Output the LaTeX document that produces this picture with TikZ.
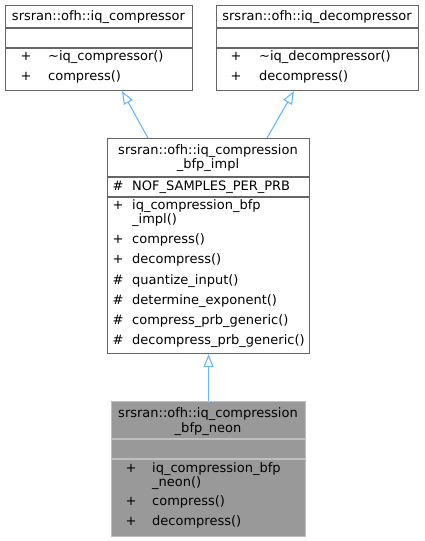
\documentclass[tikz,border=0pt]{standalone}
\usepackage{fontspec}
\setmainfont{DejaVu Sans}
\usetikzlibrary{arrows.meta,calc}
\definecolor{boxline}{HTML}{666666}
\definecolor{neonline}{HTML}{BFBFBF}
\definecolor{neonfill}{HTML}{999999}
\definecolor{edge}{HTML}{63B8FF}
\tikzset{
  txt/.style={inner sep=0pt, text height=9.5pt, text depth=2.5pt, font=\fontsize{13}{14}\selectfont},
  lt/.style={txt, anchor=west},
  ct/.style={txt, anchor=center},
  cls/.style={draw=boxline, line width=1.1pt, fill=white},
  neon/.style={draw=neonline, line width=1.1pt, fill=neonfill},
  sepl/.style={draw=boxline, line width=1.1pt},
  nsepl/.style={draw=neonline, line width=1.1pt},
  inh/.style={draw=edge, line width=1.1pt, -{Triangle[open, length=13pt, width=10pt, fill=white]}}
}
\begin{document}
\begin{tikzpicture}[x=1pt, y=-1pt]
\useasboundingbox (0,0) rectangle (424,541);

% --- iq_compressor
\node[cls, minimum width=187pt, minimum height=85pt, inner sep=0pt, anchor=north west] (comp) at (5,5) {};
\draw[sepl] (5,28) -- (192,28);
\draw[sepl] (5,48) -- (192,48);
\node[ct] (compT) at (98.5,16.5) {srsran::ofh::iq\_compressor};
\node[ct] (compP1) at (26,57) {+};
\node[lt] (compM1) at (48,57) {\char"007Eiq\_compressor()};
\node[ct] (compP2) at (26,77) {+};
\node[lt] (compM2) at (48,77) {compress()};

% --- iq_decompressor
\node[cls, minimum width=202pt, minimum height=85pt, inner sep=0pt, anchor=north west] (decomp) at (216,5) {};
\draw[sepl] (216,28) -- (418,28);
\draw[sepl] (216,48) -- (418,48);
\node[ct] (decompT) at (317,16.5) {srsran::ofh::iq\_decompressor};
\node[ct] (decompP1) at (236,57) {+};
\node[lt] (decompM1) at (259,57) {\char"007Eiq\_decompressor()};
\node[ct] (decompP2) at (236,77) {+};
\node[lt] (decompM2) at (259,77) {decompress()};

% --- iq_compression_bfp_impl
\node[cls, minimum width=202pt, minimum height=215pt, inner sep=0pt, anchor=north west] (impl) at (107,138) {};
\draw[sepl] (107,177) -- (309,177);
\draw[sepl] (107,197) -- (309,197);
\node[ct] (implT1) at (208,151) {srsran::ofh::iq\_compression};
\node[ct] (implT2) at (208,165) {\_bfp\_impl};
\node[ct] (implA1s) at (118,186.5) {\#};
\node[lt] (implA1) at (132,186.5) {NOF\_SAMPLES\_PER\_PRB};
\node[ct] (implS1) at (118,206) {+};
\node[lt] (implM1) at (132,206) {iq\_compression\_bfp};
\node[lt] (implM1b) at (132,220) {\_impl()};
\node[ct] (implS2) at (118,240) {+};
\node[lt] (implM2) at (132,240) {compress()};
\node[ct] (implS3) at (118,260) {+};
\node[lt] (implM3) at (132,260) {decompress()};
\node[ct] (implS4) at (118,281) {\#};
\node[lt] (implM4) at (132,281) {quantize\_input()};
\node[ct] (implS5) at (118,301) {\#};
\node[lt] (implM5) at (132,301) {determine\_exponent()};
\node[ct] (implS6) at (118,321) {\#};
\node[lt] (implM6) at (132,321) {compress\_prb\_generic()};
\node[ct] (implS7) at (118,341) {\#};
\node[lt] (implM7) at (132,341) {decompress\_prb\_generic()};

% --- iq_compression_bfp_neon
\node[neon, minimum width=194pt, minimum height=135pt, inner sep=0pt, anchor=north west] (neonb) at (111,401) {};
\draw[nsepl] (111,439) -- (305,439);
\draw[nsepl] (111,459) -- (305,459);
\node[ct] (neonT1) at (208,414) {srsran::ofh::iq\_compression};
\node[ct] (neonT2) at (208,428.5) {\_bfp\_neon};
\node[ct] (neonS1) at (131,469) {+};
\node[lt] (neonM1) at (152,469) {iq\_compression\_bfp};
\node[lt] (neonM1b) at (152,482.5) {\_neon()};
\node[ct] (neonS2) at (131,502) {+};
\node[lt] (neonM2) at (152,502) {compress()};
\node[ct] (neonS3) at (131,522) {+};
\node[lt] (neonM3) at (152,522) {decompress()};

% --- inheritance edges
\coordinate (e1s) at ($(impl.north west)+(41,0)$);
\coordinate (e1t) at ($(comp.south west)+(117,0)$);
\coordinate (e2s) at ($(impl.north west)+(160,0)$);
\coordinate (e2t) at ($(decomp.south west)+(78,0)$);
\draw[inh] (e1s) -- (e1t);
\draw[inh] (e2s) -- (e2t);
\draw[inh] (neonb.north) -- (impl.south);
\end{tikzpicture}
\end{document}
